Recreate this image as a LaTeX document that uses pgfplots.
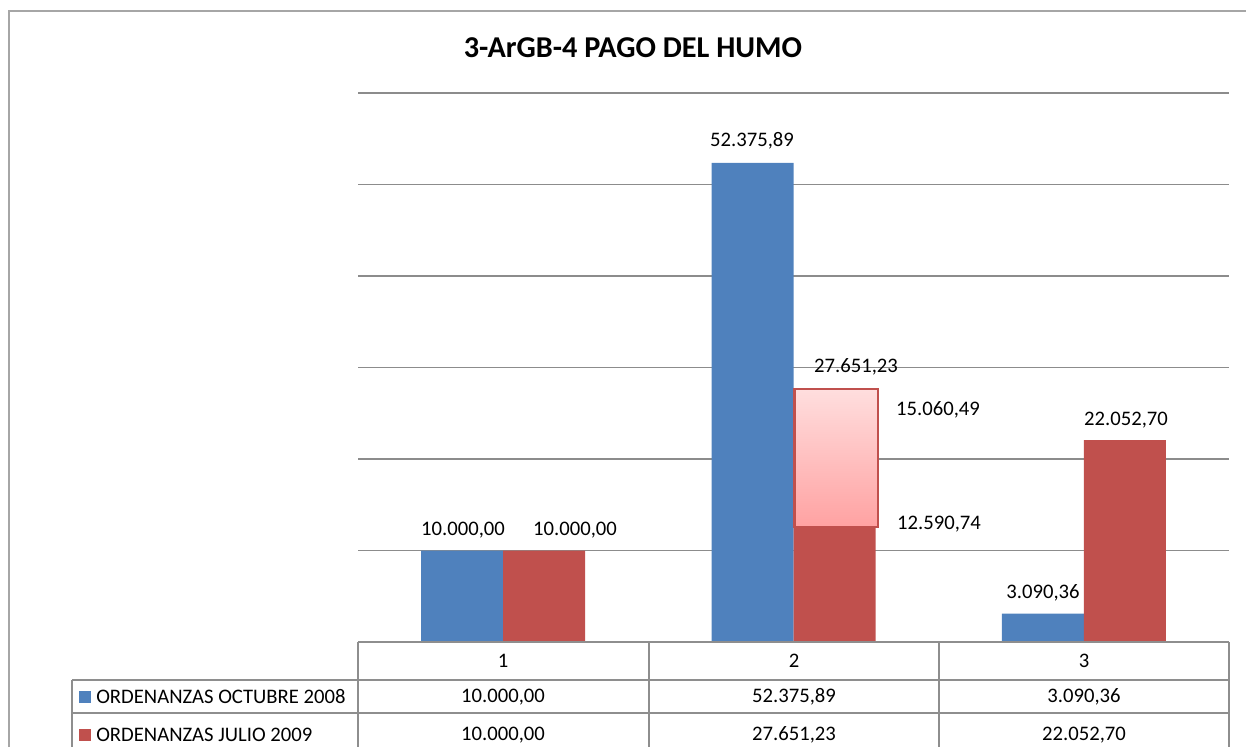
\documentclass[border=0pt]{standalone}
\usepackage{pgfplots}
\pgfplotsset{compat=1.18}
\usepackage{fontspec}
\setmainfont{Carlito}
\definecolor{cblue}{HTML}{4F81BD}
\definecolor{cred}{HTML}{C0504D}
\definecolor{gridc}{HTML}{8C8C8C}
\definecolor{tabc}{HTML}{8E8E8E}
\definecolor{framec}{HTML}{A6A6A6}
\definecolor{pinktop}{HTML}{FFDEDE}
\definecolor{pinkbot}{HTML}{FFA2A2}
\begin{document}
\begin{tikzpicture}[font=\fontsize{15.5}{18}\selectfont]
\begin{axis}[at={(268.5pt,78.75pt)}, anchor=south west, scale only axis,
  width=653.25pt, height=411.75pt,
  xmin=0.5, xmax=3.5, ymin=0, ymax=60000,
  xtick=\empty, ytick={0,10000,...,60000}, yticklabels={},
  scaled y ticks=false,
  ymajorgrids, grid style={gridc, line width=0.9pt},
  axis line style={draw=none}, major tick length=0pt, clip=false]
\addplot[ybar, bar width=61.5pt, bar shift=-30.75pt, fill=cblue, draw=none]
  coordinates {(1,10000) (2,52375.89) (3,3090.36)};
\addplot[ybar, bar width=61.5pt, bar shift=30.75pt, fill=cred, draw=none]
  coordinates {(1,10000) (2,27651.23) (3,22052.70)};
\addplot[draw=cred, line width=1.8pt, top color=pinktop, bottom color=pinkbot, mark=none]
  coordinates {(2.004,12590.74) (2.291,12590.74) (2.291,27651.23) (2.004,27651.23)} -- cycle;
\end{axis}
\begin{scope}[x=0.75pt,y=0.75pt]
\path[use as bounding box] (0,0) rectangle (1246,747);
% outer frame
\draw[framec, line width=1.5pt] (9,0) -- (9,736) -- (1246,736);
% title
\node[font=\bfseries\fontsize{22.7}{27}\selectfont] at (633,699) {3-ArGB-4 PAGO DEL HUMO};
% data labels
\node at (463,217) {10.000,00};
\node at (575,217) {10.000,00};
\node at (752,606) {52.375,89};
\node at (856,380) {27.651,23};
\node at (938,337) {15.060,49};
\node at (939,223) {12.590,74};
\node at (1043,154) {3.090,36};
\node at (1126,327) {22.052,70};
% data table
\begin{scope}[tabc, line width=1.1pt]
\draw (358,105) -- (358,0);
\draw (649,105) -- (649,0);
\draw (939,105) -- (939,0);
\draw (1229,105) -- (1229,0);
\draw (72,67) -- (72,0);
\draw (358,105) -- (1229,105);
\draw (72,67) -- (1229,67);
\draw (72,34) -- (1229,34);
\end{scope}
\node at (503,86) {1};
\node at (794,86) {2};
\node at (1084,86) {3};
\node at (503,50) {10.000,00};
\node at (794,50) {52.375,89};
\node at (1084,50) {3.090,36};
\node at (503,12) {10.000,00};
\node at (794,12) {27.651,23};
\node at (1084,12) {22.052,70};
\fill[cblue] (79,44) rectangle (91,56);
\fill[cred] (79,6) rectangle (91,18);
\node[anchor=west, inner sep=0pt] at (96,50) {ORDENANZAS OCTUBRE 2008};
\node[anchor=west, inner sep=0pt] at (96,12) {ORDENANZAS JULIO 2009};
\end{scope}
\end{tikzpicture}
\end{document}
